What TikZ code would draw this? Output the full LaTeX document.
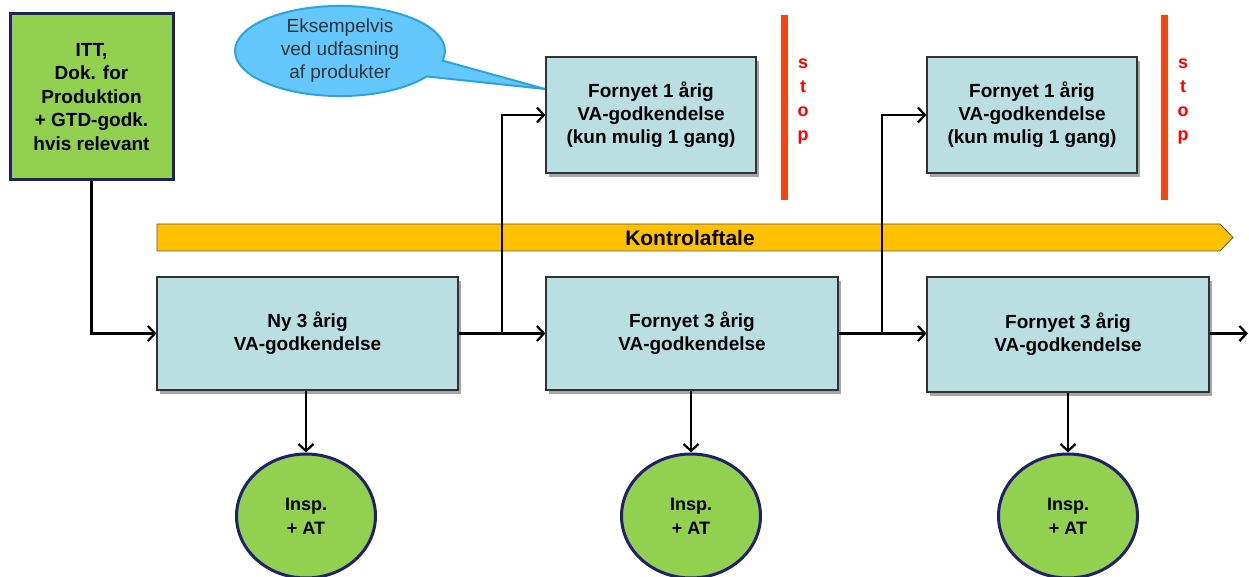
\documentclass[tikz,border=0pt]{standalone}
\usepackage{fontspec}
\setmainfont{Liberation Sans}
\usetikzlibrary{shapes.geometric,shapes.callouts,shadows,arrows.meta}
\definecolor{boxfill}{RGB}{185,223,227}
\definecolor{boxline}{RGB}{50,50,50}
\definecolor{greenfill}{RGB}{146,208,80}
\definecolor{navy}{RGB}{32,32,110}
\definecolor{bubblefill}{RGB}{100,200,255}
\definecolor{bubbleline}{RGB}{40,165,225}
\definecolor{stopbar}{RGB}{240,70,20}
\definecolor{stoptext}{RGB}{255,0,0}
\definecolor{amber}{RGB}{255,192,0}
\begin{document}
\begin{tikzpicture}[x=1pt,y=-1pt,
  vabox/.style={rectangle,draw=boxline,line width=1.2pt,fill=boxfill,align=center,
    font=\fontsize{19}{23}\selectfont\bfseries,inner sep=0pt,
    drop shadow={shadow xshift=3pt,shadow yshift=-4pt,opacity=0.35,fill=black}},
  greenbox/.style={rectangle,draw=navy,line width=3pt,fill=greenfill,align=center,
    font=\fontsize{19}{23.5}\selectfont\bfseries,inner sep=0pt},
  insp/.style={ellipse,draw=navy,line width=3pt,fill=greenfill,align=center,
    font=\fontsize{18}{24}\selectfont\bfseries,minimum width=139pt,minimum height=124pt,inner sep=0pt},
  conn/.style={line width=2.2pt,-{Straight Barb[length=7pt,width=15pt,line width=2.2pt]}},
  stopletters/.style={text=stoptext,font=\fontsize{18}{24}\selectfont\bfseries,align=center}
]
\useasboundingbox (0,0) rectangle (1249,577);

% Kontrolaftale band
\fill[amber,draw=gray!70!black,line width=0.8pt] (157,224) -- (1220,224) -- (1233,237.5) -- (1220,251) -- (157,251) -- cycle;
\node[font=\fontsize{21}{24}\selectfont\bfseries] (kontrol) at (690,238) {Kontrolaftale};

% ITT box
\node[greenbox,minimum width=163pt,minimum height=166pt] (itt) at (91.5,97)
  {ITT,\\Dok. for\\Produktion\\+ GTD-godk.\\hvis relevant};

% callout bubble
\node[ellipse callout,draw=bubbleline,line width=2pt,fill=bubblefill,text=black!80,
  minimum width=210pt,minimum height=82pt,inner sep=0pt,align=center,
  font=\fontsize{19}{23}\selectfont,callout pointer arc=22,
  callout absolute pointer={(545,89)}] (bubble) at (340,51)
  {Eksempelvis\\ved udfasning\\af produkter};

% top boxes
\node[vabox,minimum width=210pt,minimum height=116pt] (t1) at (651,115)
  {Fornyet 1 årig\\VA-godkendelse\\(kun mulig 1 gang)};
\node[vabox,minimum width=210pt,minimum height=116pt] (t2) at (1032,115)
  {Fornyet 1 årig\\VA-godkendelse\\(kun mulig 1 gang)};

% stop bars
\fill[stopbar] (781,15) rectangle (788,200);
\fill[stopbar] (1161,15) rectangle (1168,200);
\node[stopletters] (stop1) at (803,102) {s\\t\\o\\p};
\node[stopletters] (stop2) at (1183,102) {s\\t\\o\\p};

% bottom boxes
\node[vabox,minimum width=301pt,minimum height=113pt] (b1) at (307.5,333.5)
  {Ny 3 årig\\VA-godkendelse};
\node[vabox,minimum width=292pt,minimum height=113pt] (b2) at (692,333.5)
  {Fornyet 3 årig\\VA-godkendelse};
\node[vabox,minimum width=282pt,minimum height=115pt] (b3) at (1068,334.5)
  {Fornyet 3 årig\\VA-godkendelse};

% inspection ellipses
\node[insp] (e1) at (306,516) {Insp.\\+ AT};
\node[insp] (e2) at (691,516) {Insp.\\+ AT};
\node[insp] (e3) at (1068,516) {Insp.\\+ AT};

% connectors
\coordinate (j1) at (502,333.5);
\coordinate (j2) at (882,333.5);
\coordinate (endpt) at (1248,333.5);
\draw[conn] (itt.south) |- (b1.west);
\draw[conn] (b1.east) -- (b2.west);
\draw[conn] (j1) |- (t1.west);
\draw[conn] (b2.east) -- (b3.west |- b2.east);
\draw[conn] (j2) |- (t2.west);
\draw[conn] (b3.east |- b2.east) -- (endpt);
\draw[conn] (e1.north |- b1.south) -- (e1.north);
\draw[conn] (e2.north |- b2.south) -- (e2.north);
\draw[conn] (e3.north |- b3.south) -- (e3.north);
\end{tikzpicture}
\end{document}
